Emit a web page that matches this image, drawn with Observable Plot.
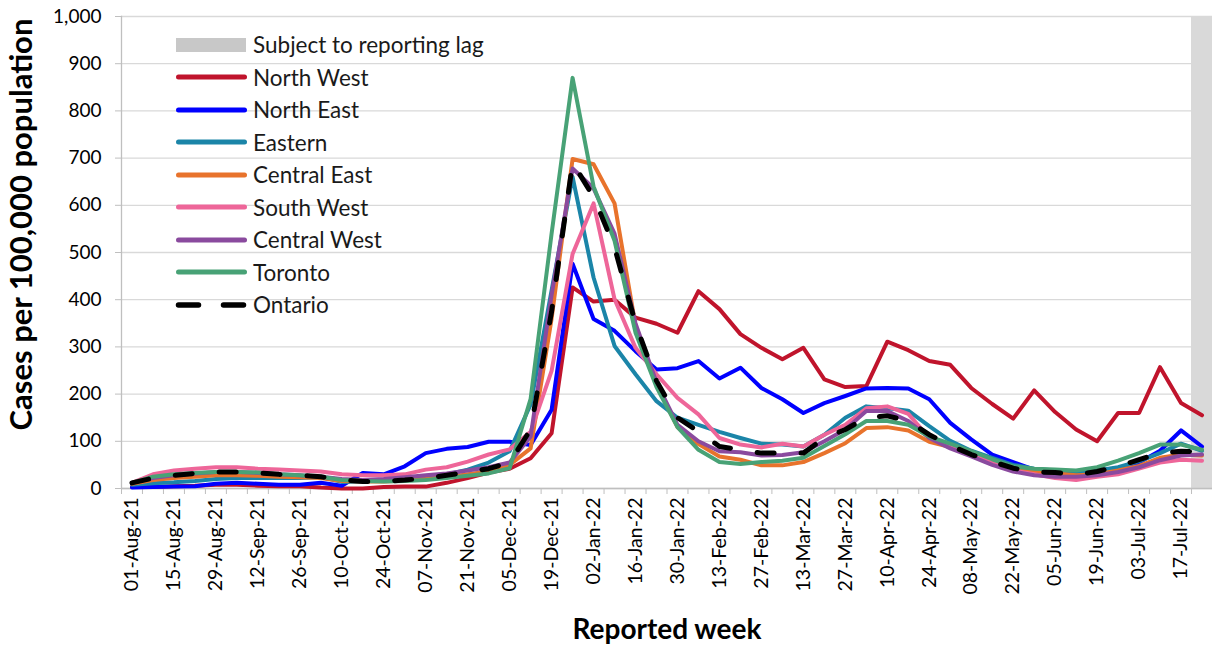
<!DOCTYPE html>
<html><head><meta charset="utf-8">
<script src="https://cdn.jsdelivr.net/npm/d3@7"></script>
<script src="https://cdn.jsdelivr.net/npm/@observablehq/plot@0.6"></script>
<style>
body{margin:0;background:#fff;font-family:Lato,sans-serif;}
#wrap{position:relative;width:1212px;height:654px;overflow:hidden;}
#legend{position:absolute;left:174px;top:28.5px;}
.row{display:flex;align-items:center;height:32.5px;font-size:22.5px;color:#1a1a1a;white-space:nowrap;}
.row svg{margin-right:0;flex:none;}
</style></head><body>
<div id="wrap"><div id="chart"></div><div id="legend"></div></div>
<script>
const weeks = ["01-Aug-21","08-Aug-21","15-Aug-21","22-Aug-21","29-Aug-21","05-Sep-21","12-Sep-21","19-Sep-21","26-Sep-21","03-Oct-21","10-Oct-21","17-Oct-21","24-Oct-21","31-Oct-21","07-Nov-21","14-Nov-21","21-Nov-21","28-Nov-21","05-Dec-21","12-Dec-21","19-Dec-21","26-Dec-21","02-Jan-22","09-Jan-22","16-Jan-22","23-Jan-22","30-Jan-22","06-Feb-22","13-Feb-22","20-Feb-22","27-Feb-22","06-Mar-22","13-Mar-22","20-Mar-22","27-Mar-22","03-Apr-22","10-Apr-22","17-Apr-22","24-Apr-22","01-May-22","08-May-22","15-May-22","22-May-22","29-May-22","05-Jun-22","12-Jun-22","19-Jun-22","26-Jun-22","03-Jul-22","10-Jul-22","17-Jul-22","24-Jul-22"];
const lagWeeks = ["24-Jul-22"];
const yTicks = [0,100,200,300,400,500,600,700,800,900,1000];

const northWest   = [3,3,5,6,8,8,6,5,5,2,0,0,3,4,4,12,22,34,42,64,117,426,396,400,362,349,330,418,380,327,298,274,298,231,215,217,311,293,270,262,213,179,148,208,162,125,100,160,160,257,181,155];
const northEast   = [2,3,4,5,10,12,10,8,8,12,6,33,30,47,75,84,88,99,99,92,167,476,359,334,291,252,255,270,233,256,213,189,160,181,196,212,213,212,189,139,104,72,56,40,38,35,32,40,55,80,123,89];
const eastern     = [8,11,13,16,20,22,22,22,22,24,14,15,18,20,22,30,40,55,79,178,420,660,447,302,242,185,150,135,120,107,95,93,89,114,150,174,170,165,132,101,80,65,50,42,38,35,38,45,58,75,95,80];
const centralEast = [10,18,22,25,28,28,27,25,24,22,16,15,15,17,20,24,30,36,50,85,360,698,687,604,345,220,130,94,68,61,49,49,56,75,96,128,130,123,99,88,75,58,42,35,32,28,30,38,48,65,72,70];
const southWest   = [12,30,38,42,45,45,42,40,38,36,30,28,28,30,40,45,57,72,83,120,249,497,604,401,298,242,192,157,107,93,87,95,89,114,135,170,174,158,107,88,70,56,38,30,22,18,25,30,42,55,61,59];
const centralWest = [12,22,28,32,35,35,33,30,28,25,20,18,20,24,28,32,38,45,55,110,410,678,636,540,350,225,135,100,79,77,70,71,77,100,125,164,164,143,107,85,68,50,36,28,25,25,28,35,45,60,70,72];
const toronto     = [12,25,30,33,35,35,34,30,28,25,18,16,15,16,18,22,27,32,43,190,540,870,640,525,330,215,130,82,56,52,56,59,65,90,115,143,143,135,110,95,79,62,47,42,40,38,45,59,75,93,93,82];
const ontario     = [12,22,28,32,35,35,33,30,28,25,18,15,15,18,22,28,35,42,55,125,375,690,618,511,349,228,150,121,89,82,75,75,75,107,125,150,154,143,114,91,72,57,43,35,34,29,36,47,61,75,79,78];

const regions = ["North West","North East","Eastern","Central East","South West","Central West","Toronto"];
const regionValues = [northWest,northEast,eastern,centralEast,southWest,centralWest,toronto];
const colors = ["#C0142C","#0000FF","#1B85A8","#E8732C","#EE6699","#8A4A9E","#48A276"];

const rows = [];
regions.forEach((r,k)=>weeks.forEach((w,i)=>rows.push({week:w,region:r,value:regionValues[k][i]})));
const ont = weeks.map((w,i)=>({week:w,value:ontario[i]}));

const W=1212,H=654,mL=121,mR=0,mT=16,mB=166;
const bw=(W-mL-mR)/weeks.length;

const chart = Plot.plot({
  width:W,height:H,marginLeft:mL,marginRight:mR,marginTop:mT,marginBottom:mB,
  style:{fontFamily:"Lato, sans-serif",color:"#000",background:"#fff",overflow:"visible"},
  x:{type:"band",domain:weeks,padding:0,axis:null},
  y:{domain:[0,1000],axis:null},
  color:{domain:regions,range:colors},
  marks:[
    Plot.gridY(yTicks,{stroke:"#d9d9d9",strokeOpacity:1,strokeWidth:1.3}),
    Plot.barY(lagWeeks,{x:d=>d,y1:0,y2:1000,fill:"#d9d9d9"}),
    Plot.ruleY([0],{stroke:"#bfbfbf",strokeWidth:1.5}),
    Plot.frame({anchor:"left",stroke:"#bfbfbf",strokeWidth:1.3}),
    Plot.axisX(weeks,{tickSize:6,dx:-bw/2,stroke:"#bfbfbf",tickFormat:()=>"",label:null}),
    Plot.axisX(weeks.filter((d,i)=>i%2===0),{tickSize:0,tickRotate:-90,tickPadding:9,fontSize:19.5,fill:"#000",label:null}),
    Plot.axisY(yTicks,{tickSize:6,tickPadding:14,tickFormat:d3.format(","),fontSize:19,stroke:"#bfbfbf",fill:"#000",label:null}),
    Plot.line(rows,{x:"week",y:"value",z:"region",stroke:"region",strokeWidth:4,strokeLinejoin:"round",strokeLinecap:"round"}),
    Plot.line(ont,{x:"week",y:"value",stroke:"#000",strokeWidth:5,strokeDasharray:"17,27",strokeLinecap:"round",strokeLinejoin:"round"}),
    Plot.text(["Cases per 100,000 population"],{frameAnchor:"left",textAnchor:"middle",dx:-99,dy:-28,rotate:-90,fontSize:31,fontWeight:"bold",fill:"#000"}),
    Plot.text(["Reported week"],{frameAnchor:"bottom",dy:150,fontSize:28,fontWeight:"bold",fill:"#000"})
  ]
});
document.getElementById("chart").appendChild(chart);

// legend
const leg = document.getElementById("legend");
const items = [{name:"Subject to reporting lag",type:"rect",color:"#c8c8c8"}]
  .concat(regions.map((r,k)=>({name:r,type:"line",color:colors[k]})))
  .concat([{name:"Ontario",type:"dash",color:"#000"}]);
items.forEach(it=>{
  const row=document.createElement("div");row.className="row";
  let sw;
  if(it.type==="rect") sw=`<svg width="79" height="20"><rect x="2" y="3" width="70" height="14" fill="${it.color}"/></svg>`;
  else if(it.type==="line") sw=`<svg width="79" height="20"><line x1="4.5" y1="10" x2="70.5" y2="10" stroke="${it.color}" stroke-width="5" stroke-linecap="round"/></svg>`;
  else sw=`<svg width="79" height="20"><line x1="4.5" y1="10" x2="70.5" y2="10" stroke="#000" stroke-width="5.5" stroke-linecap="round" stroke-dasharray="20,25"/></svg>`;
  row.innerHTML=sw+`<span>${it.name}</span>`;
  leg.appendChild(row);
});
</script></body></html>
